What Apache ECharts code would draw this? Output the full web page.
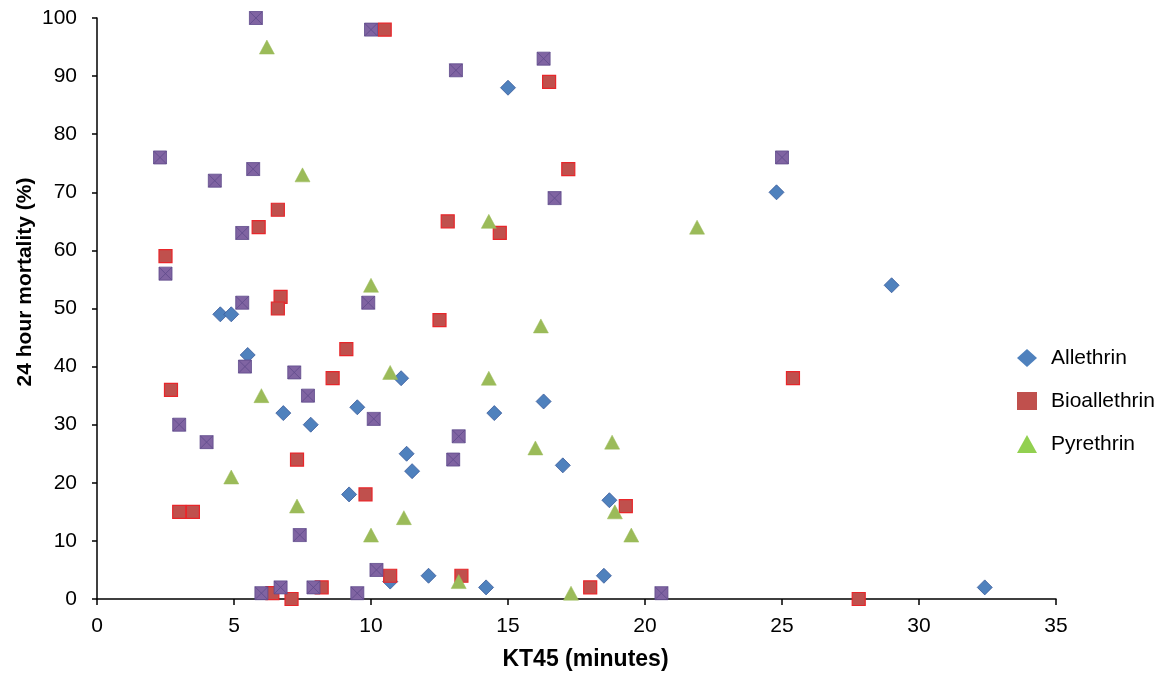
<!DOCTYPE html>
<html><head><meta charset="utf-8">
<script src="https://cdn.jsdelivr.net/npm/echarts@6/dist/echarts.min.js"></script>
<style>html,body{margin:0;padding:0;background:#fff}#c{width:1172px;height:679px}</style>
</head><body><div id="c"></div>
<script>
const allethrin = [[15.0,88],[24.8,70],[29.0,54],[32.4,2],[4.5,49],[4.9,49],[5.5,42],[6.8,32],[9.5,33],[7.8,30],[9.2,18],[11.1,38],[16.3,34],[14.5,32],[11.3,25],[11.5,22],[17.0,23],[18.7,17],[10.7,3],[12.1,4],[14.2,2],[18.5,4]];
const bioallethrin = [[10.5,98],[16.5,89],[17.2,74],[6.6,67],[5.9,64],[12.8,65],[14.7,63],[2.5,59],[6.7,52],[6.6,50],[12.5,48],[9.1,43],[8.6,38],[2.7,36],[25.4,38],[7.3,24],[9.8,18],[3.0,15],[3.5,15],[19.3,16],[10.7,4],[13.3,4],[18.0,2],[6.4,1],[7.1,0],[8.2,2],[27.8,0]];
const pyrethrin = [[6.2,95],[7.5,73],[10.0,54],[14.3,65],[21.9,64],[16.2,47],[10.7,39],[14.3,38],[6.0,35],[4.9,21],[7.3,16],[10.0,11],[11.2,14],[16.0,26],[18.8,27],[18.9,15],[19.5,11],[13.2,3],[17.3,1]];
const overlap = [[5.8,100],[10.0,98],[16.3,93],[13.1,91],[2.3,76],[25.0,76],[5.7,74],[4.3,72],[16.7,69],[5.3,63],[2.5,56],[5.3,51],[9.9,51],[5.4,40],[7.2,39],[7.7,35],[3.0,30],[10.1,31],[4.0,27],[13.2,28],[13.0,24],[7.4,11],[10.2,5],[6.0,1],[6.7,2],[7.9,2],[9.5,1],[20.6,1]];
const seriesNames = ['Allethrin','Bioallethrin','Pyrethrin'];
const xTicks = [0,5,10,15,20,25,30,35];
const yTicks = [0,10,20,30,40,50,60,70,80,90,100];
const yTitle = '24 hour mortality (%)';
const xTitle = 'KT45 (minutes)';

const chart = echarts.init(document.getElementById('c'));
const font = 'Liberation Sans, Arial, sans-serif';
chart.setOption({
  animation:false,
  backgroundColor:'#fff',
  grid:{left:97,top:18,width:959,height:581,containLabel:false},
  legend:{
    orient:'vertical',left:1012,top:342,padding:5,itemGap:21,itemWidth:20,itemHeight:18,
    data:[
      {name:seriesNames[0],icon:'diamond',itemStyle:{color:'#4F81BD',borderWidth:0}},
      {name:seriesNames[1],icon:'rect',itemStyle:{color:'#C0504D',borderWidth:0}},
      {name:seriesNames[2],icon:'triangle',itemStyle:{color:'#92D050',borderWidth:0}}
    ],
    textStyle:{fontFamily:font,fontSize:21,lineHeight:22,color:'#000',padding:[0,0,0,9]}
  },
  graphic:[{
    type:'text',x:25,y:282,rotation:Math.PI/2,
    style:{text:yTitle,fontFamily:font,fontSize:21,fontWeight:'bold',fill:'#000',align:'center',verticalAlign:'middle'}
  }],
  xAxis:{
    type:'value',min:xTicks[0],max:xTicks[xTicks.length-1],interval:5,
    name:xTitle,nameLocation:'middle',nameGap:49,
    nameTextStyle:{fontFamily:font,fontSize:23,fontWeight:'bold',color:'#000',padding:[0,0,0,18]},
    axisLine:{lineStyle:{color:'#000',width:1.5}},
    axisTick:{show:true,length:6,lineStyle:{color:'#000',width:1.5}},
    axisLabel:{fontFamily:font,fontSize:21,color:'#000',margin:17},
    splitLine:{show:false}
  },
  yAxis:{
    type:'value',min:yTicks[0],max:yTicks[yTicks.length-1],interval:10,
    axisLine:{show:true,lineStyle:{color:'#000',width:1.5}},
    axisTick:{show:true,length:5,lineStyle:{color:'#000',width:1.5}},
    axisLabel:{fontFamily:font,fontSize:21,color:'#000',margin:20},
    splitLine:{show:false}
  },
  series:[
    {name:'Allethrin',type:'scatter',data:allethrin,symbol:'diamond',symbolSize:[15,15],
     itemStyle:{color:'#4F81BD',borderColor:'#3A5A9A',borderWidth:0.8,opacity:1}},
    {name:'Bioallethrin',type:'scatter',data:bioallethrin,symbol:'rect',symbolSize:[13,13],
     itemStyle:{color:'#C0504D',borderColor:'#E8262A',borderWidth:1.2,opacity:1}},
    {name:'Pyrethrin',type:'scatter',data:pyrethrin,symbol:'triangle',symbolSize:[15,14],
     itemStyle:{color:'#9BBB59',borderColor:'#9BBB59',borderWidth:0.5,opacity:1}},
    {name:'Overlap',type:'scatter',data:overlap,
     symbol:'path://M0,0L10,0L10,10L0,10Z M0,0L10,10 M10,0L0,10',symbolSize:[13,13],
     itemStyle:{color:'#8064A2',borderColor:'#5E4A8A',borderWidth:0.8,opacity:1}}
  ]
});
</script></body></html>
